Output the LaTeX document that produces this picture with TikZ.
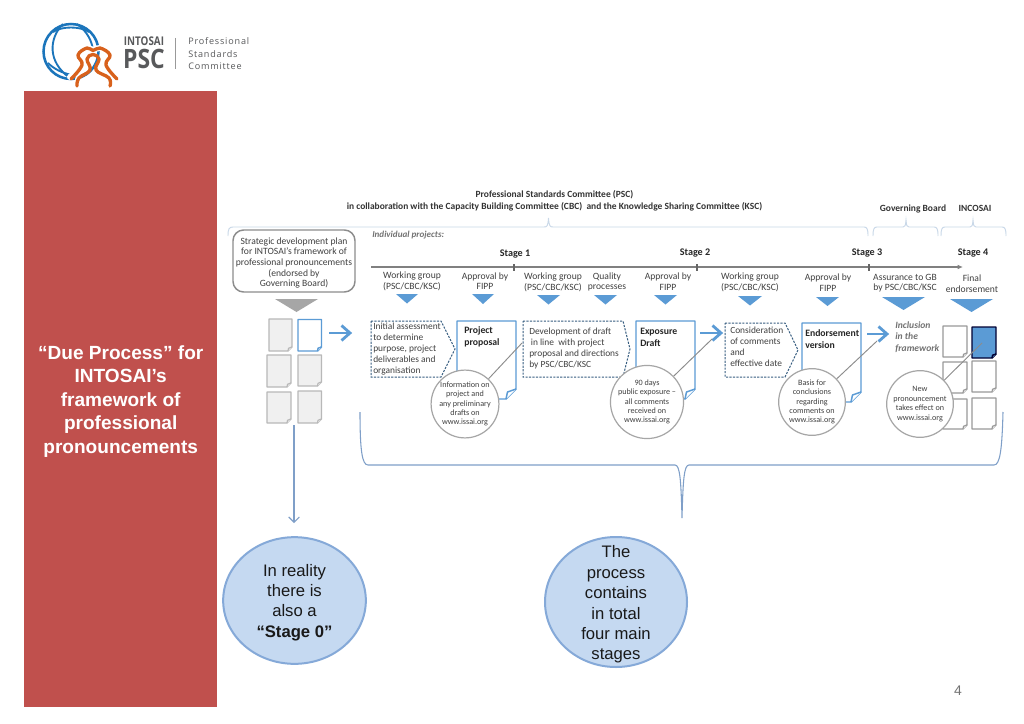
\documentclass[tikz,border=0pt]{standalone}
\usepackage{fontspec}
\usepackage{graphicx}
\setmainfont{Carlito}
\newfontfamily\arialf{Liberation Sans}
\newfontfamily\logof[LetterSpace=9]{Open Sans}
\newfontfamily\logob{Open Sans}
\usetikzlibrary{shapes.geometric,arrows.meta}
\definecolor{panelred}{HTML}{C0504D}
\definecolor{txt}{HTML}{404040}
\definecolor{bl}{HTML}{5B9BD5}
\definecolor{lightbrace}{HTML}{C9D8E8}
\definecolor{bubble}{HTML}{C5D9F1}
\definecolor{bubbleline}{HTML}{85A9D8}
\definecolor{bracec}{HTML}{7F9FC8}
\definecolor{logoblue}{HTML}{1B75BB}
\definecolor{logoorange}{HTML}{D8611C}
\definecolor{logogray}{HTML}{58595B}
\tikzset{
 lab/.style={text=txt,align=center,inner sep=0pt,font=\fontsize{7.2}{8}\selectfont},
 head/.style={text=black!80,align=center,inner sep=0pt,font=\fontsize{7.1}{8.6}\selectfont\bfseries},
 stagelab/.style={text=black!85,inner sep=0pt,font=\fontsize{7.6}{8}\selectfont\bfseries},
 boxtxt/.style={text=txt,align=left,anchor=north west,inner sep=0pt,font=\fontsize{7.05}{8.2}\selectfont},
 doctitle/.style={text=black!85,align=left,anchor=north west,inner sep=0pt,font=\fontsize{7.3}{9}\selectfont\bfseries},
 circ/.style={circle,draw=black!35,line width=0.9pt,fill=white,text=txt,align=center,inner sep=0pt,minimum size=50pt,font=\fontsize{6.1}{7.05}\selectfont},
 lead/.style={draw=black!45,line width=0.7pt},
 tri/.style={fill=bl,draw=none},
 bigarrow/.style={draw=bl,line width=2.1pt,line cap=butt,miter limit=10},
 dashbox/.style={draw=bl!60!black,line width=0.75pt,dash pattern=on 1.6pt off 1pt,fill=white},
 bracethin/.style={draw=lightbrace,line width=0.7pt},
 bracebig/.style={draw=bracec,line width=0.8pt},
 bubblenode/.style={ellipse,draw=bubbleline,line width=1.5pt,fill=bubble,inner sep=0pt},
 bubbletext/.style={inner sep=0pt,align=center,text=black!90,font=\arialf\fontsize{12.5}{15.3}\selectfont},
 greydoc/.style={draw=black!28,fill=black!6,line width=0.9pt},
 whitedoc/.style={draw=black!40,fill=white,line width=0.9pt},
 bluedoc/.style={draw=bl,fill=white,line width=1.1pt},
 fulldoc/.style={draw=black!80!blue,fill=bl,line width=1.1pt},
 logoline/.style={draw=logoblue,line width=1.9pt},
 logothin/.style={draw=logoblue,line width=1.4pt},
 persline/.style={draw=logoorange,line width=2.5pt,line cap=round,line join=round},
 perhalo/.style={draw=white,line width=4.5pt,line cap=round},
}
% name, x1, y1, x2, y2, fold, style
\newcommand\docsheet[7]{%
 \coordinate (#1) at ({(#2+#4)/2},{(#3+#5)/2});
 \draw[#7,line join=round] (#2,#3) -- (#4,#3) -- (#4,{#5-#6}) -- ({#4-#6},#5) -- (#2,#5) -- cycle;
 \draw[#7,line join=round] (#4,{#5-#6}) -- ({#4-0.85*#6},{#5-0.7*#6}) -- ({#4-#6},#5);
}
\newcommand\bigarr[2]{%
 \draw[bigarrow] (#1) -- (#2);
 \draw[bigarrow] (#2) ++(-8.5,-7.5) -- (#2) -- ++(-8.5,7.5);
}
\begin{document}
\begin{tikzpicture}[x=0.75pt,y=-0.75pt]
\useasboundingbox (0,0) rectangle (1024,724);
\fill[white] (0,0) rectangle (1024,724);
% red panel
\fill[panelred] (24,91) rectangle (217,707);
\node[text=white,align=center,inner sep=0pt,font=\arialf\bfseries\fontsize{14.3}{17.6}\selectfont] (title) at (120.7,401.5) {“Due Process” for\\INTOSAI’s\\framework of\\professional\\pronouncements};
% logo
\draw[logoline] (71,51.5) circle (27.5);
\draw[logothin] (63,24) .. controls (49,38) and (47,62) .. (70,78);
\draw[logothin] (53,32) .. controls (62,26) and (80,26) .. (89,32);
\draw[logothin] (77,24) .. controls (88,32) and (92,42) .. (93,50);
\draw[logothin] (48,63) .. controls (54,69) and (62,73) .. (72,75);
\draw[perhalo] plot[smooth,tension=0.7] coordinates {(70,77) (82,65) (78,55) (87,48) (93,50) (100,48) (110,55) (107,65) (117,78)};
\draw[perhalo] (78,86) -- (78,79);
\draw[persline] plot[smooth,tension=0.7] coordinates {(71,79) (82,65) (78,55) (87,48) (93,50.5) (100,48) (110,55) (106,65) (117,79)};
\draw[persline] plot[smooth,tension=0.7] coordinates {(77,86) (79,78) (90,70) (87,59) (93,54.5) (99,59) (96,70) (109,78) (110,86)};
\node[inner sep=0pt,text=logogray] (lg1) at (144,41.7) {\logob\bfseries\scalebox{0.82}[1]{\fontsize{9}{10}\selectfont INTOSAI}};
\node[inner sep=0pt,text=logogray] (lg2) at (144,58.5) {\logob\bfseries\scalebox{0.86}[1]{\fontsize{20}{22}\selectfont PSC}};
\coordinate (lga) at (175.5,38); \coordinate (lgb) at (175.5,69);
\draw[black!40,line width=0.6pt] (lga) -- (lgb);
\node[inner sep=0pt,text=logogray,anchor=west,font=\logof\fontsize{6.8}{7}\selectfont] (lg3) at (188,41.5) {Professional};
\node[inner sep=0pt,text=logogray,anchor=west,font=\logof\fontsize{6.8}{7}\selectfont] (lg4) at (188,54) {Standards};
\node[inner sep=0pt,text=logogray,anchor=west,font=\logof\fontsize{6.8}{7}\selectfont] (lg5) at (188,66) {Committee};
% headings
\node[head] (hd) at (554.5,201) {Professional Standards Committee (PSC)\\in collaboration with the Capacity Building Committee (CBC)\ \ and the Knowledge Sharing Committee (KSC)};
\node[head] (gb) at (913,208.5) {Governing Board};
\node[head] (inc) at (975,208.5) {INCOSAI};
% thin top braces
\draw[bracethin] (228,236) .. controls (228,229) and (229,227) .. (233,227) -- (544,227) .. controls (547,227) and (548,226) .. (548.5,218) .. controls (549,226) and (550,227) .. (553,227) -- (864,227) .. controls (867,227) and (868,229) .. (868,236);
\draw[bracethin] (873,236) .. controls (873,229) and (874,227) .. (877,227) -- (903,227) .. controls (905,227) and (905.5,226) .. (906,220) .. controls (906.5,226) and (907,227) .. (909,227) -- (934,227) .. controls (937,227) and (938,229) .. (938,236);
\draw[bracethin] (941,236) .. controls (941,229) and (942,227) .. (945,227) -- (970,227) .. controls (972,227) and (972.5,226) .. (973,220) .. controls (973.5,226) and (974,227) .. (976,227) -- (1002,227) .. controls (1005,227) and (1006,229) .. (1006,236);
% strategic box
\node[draw=black!45,line width=1.1pt,rounded corners=8pt,minimum width=91.5pt,minimum height=46.5pt,inner sep=0pt,fill=white] (plan) at (294,261) {};
\node[lab,font=\fontsize{7.2}{8.05}\selectfont] (plantxt) at (294,263) {Strategic development plan\\for INTOSAI’s framework of\\professional pronouncements\\(endorsed by\\Governing Board)};
\fill[black!35] (275,299) -- (318,299) -- (296.5,312) -- cycle;
\node[text=black!55,inner sep=0pt,anchor=west,font=\fontsize{6.8}{8}\selectfont\bfseries\itshape] (indiv) at (372,235) {Individual projects:};
% timeline
\coordinate (tl0) at (371,267); \coordinate (tl1) at (963,267);
\draw[black!50,line width=0.9pt,-{Latex[length=4pt,width=3.5pt]}] (tl0) -- (tl1);
\foreach \tx in {514,697,869} \draw[black!60,line width=0.8pt] (\tx,264) -- (\tx,271);
\node[stagelab] (s1) at (515,254) {Stage 1};
\node[stagelab] (s2) at (695,253) {Stage 2};
\node[stagelab] (s3) at (867,253) {Stage 3};
\node[stagelab] (s4) at (973,253) {Stage 4};
% labels
\node[lab] (w1) at (412,281) {Working group\\(PSC/CBC/KSC)};
\node[lab] (a1) at (485,281) {Approval by\\FIPP};
\node[lab] (w2) at (553,282) {Working group\\(PSC/CBC/KSC)};
\node[lab] (q1) at (607,282) {Quality\\processes};
\node[lab] (a2) at (668,281.5) {Approval by\\FIPP};
\node[lab] (w3) at (750,282.5) {Working group\\(PSC/CBC/KSC)};
\node[lab] (a3) at (828,282.5) {Approval by\\FIPP};
\node[lab] (as) at (905,283) {Assurance to GB\\by PSC/CBC/KSC};
\node[lab] (fe) at (972,284) {Final\\endorsement};
% triangles
\fill[tri] (396,294) -- (418,294) -- (407,303.5) -- cycle;
\fill[tri] (472,294) -- (494,294) -- (483,304) -- cycle;
\fill[tri] (537,295) -- (560,295) -- (548.5,304.5) -- cycle;
\fill[tri] (594,295) -- (617,295) -- (605.5,304.5) -- cycle;
\fill[tri] (654,295) -- (677,295) -- (665.5,304.5) -- cycle;
\fill[tri] (738,296) -- (762,296) -- (750,305.5) -- cycle;
\fill[tri] (816,297) -- (839,297) -- (827.5,306) -- cycle;
\fill[tri] (882,297) -- (925,297) -- (903.5,310) -- cycle;
\fill[tri] (950,299) -- (993,299) -- (971.5,312) -- cycle;
% left documents
\docsheet{g1}{269}{319}{292}{351}{4}{greydoc}
\docsheet{g2}{298}{319.5}{321.5}{351}{4}{bluedoc}
\docsheet{g3}{267}{355}{291}{387}{4}{greydoc}
\docsheet{g4}{298}{355}{321.5}{386}{4}{greydoc}
\docsheet{g5}{267}{392}{291}{423}{4}{greydoc}
\docsheet{g6}{298}{391}{321.5}{423}{4}{greydoc}
% right documents
\docsheet{r1}{943}{326}{967}{357}{4}{whitedoc}
\docsheet{r2}{972}{327}{996}{358}{4}{fulldoc}
\docsheet{r3}{943}{362}{967}{393}{4}{whitedoc}
\docsheet{r4}{972}{361}{996}{392}{4}{whitedoc}
\docsheet{r5}{943}{399}{967}{429}{4}{whitedoc}
\docsheet{r6}{972}{398}{996}{429}{4}{whitedoc}
% arrows
\coordinate (ar1a) at (329,333); \coordinate (ar1b) at (350,333);
\bigarr{ar1a}{ar1b}
\coordinate (ar2a) at (700,333); \coordinate (ar2b) at (721,333);
\bigarr{ar2a}{ar2b}
\coordinate (ar3a) at (867,334); \coordinate (ar3b) at (887,334);
\bigarr{ar3a}{ar3b}
% pentagons
\draw[dashbox] (371,321) -- (441,321) -- (455,349) -- (441,377) -- (371,377) -- cycle;
\node[boxtxt] (p1) at (373,323) {Initial assessment\\to determine\\purpose, project\\deliverables and\\organisation};
\draw[dashbox] (523,321) -- (623,321) -- (630,349) -- (623,377) -- (523,377) -- cycle;
\node[boxtxt] (p2) at (529,328) {Development of draft\\\hspace*{1.2pt}in line\ \ with project\\proposal and directions\\by PSC/CBC/KSC};
\draw[dashbox] (725,323) -- (785,323) -- (798,350) -- (785,377) -- (725,377) -- cycle;
\node[boxtxt] (p3) at (730,327) {Consideration\\of comments\\and\\effective date};
% stage documents
\docsheet{d1}{457}{321}{516}{399}{10}{bluedoc}
\docsheet{d2}{636}{321}{695}{399}{10}{bluedoc}
\docsheet{d3}{802}{323}{861}{402}{10}{bluedoc}
\node[doctitle] (d1t) at (464,326) {Project\\proposal};
\node[doctitle] (d2t) at (640,328) {Exposure\\Draft};
\node[doctitle] (d3t) at (805,329) {Endorsement\\version};
\node[text=black!55,inner sep=0pt,anchor=west,align=left,font=\fontsize{7.2}{8.4}\selectfont\bfseries\itshape] (incl) at (895,337) {Inclusion\\in the\\framework};
% circles and leaders
\coordinate (l1) at (522,343);
\coordinate (l2) at (712,339);
\coordinate (l3) at (877,341);
\coordinate (l4) at (982,343);
\node[circ] (c1) at (465,404) {Information on\\project and\\any preliminary\\drafts on\\www.issai.org};
\node[circ] (c2) at (647,402) {90 days\\public exposure –\\all comments\\received on\\www.issai.org};
\node[circ] (c3) at (812,402) {Basis for\\conclusions\\regarding\\comments on\\www.issai.org};
\node[circ] (c4) at (920,404) {New\\pronouncement\\takes effect on\\www.issai.org};
\draw[lead] (c1) -- (l1);
\draw[lead] (c2) -- (l2);
\draw[lead] (c3) -- (l3);
\draw[lead] (c4) -- (l4);
% big brace
\draw[bracebig] (360,412) .. controls (360,450) and (362,465) .. (368,465) -- (675,465) .. controls (680,465) and (681,480) .. (682,518) .. controls (683,480) and (684,465) .. (689,465) -- (994,465) .. controls (1000,465) and (1002,450) .. (1003,412);
% bubbles
\node[bubblenode,minimum width=107pt,minimum height=95pt] (b1) at (294.5,600.5) {};
\node[bubbletext] (b1t) at (294.5,602.5) {In reality\\there is\\also a\\\textbf{“Stage 0”}};
\node[bubblenode,minimum width=106.5pt,minimum height=97.5pt] (b2) at (616,602) {};
\node[bubbletext] (b2t) at (616,604.5) {The\\process\\contains\\in total\\four main\\stages};
\coordinate (dna) at (294,425); \coordinate (dnb) at (294,523);
\draw[bracec,line width=0.8pt,-{Straight Barb[length=4pt,width=8pt]}] (dna) -- (dnb);
\node[text=black!55,inner sep=0pt,font=\arialf\fontsize{10.5}{12}\selectfont] (pg) at (958,690.5) {4};
\end{tikzpicture}
\end{document}
